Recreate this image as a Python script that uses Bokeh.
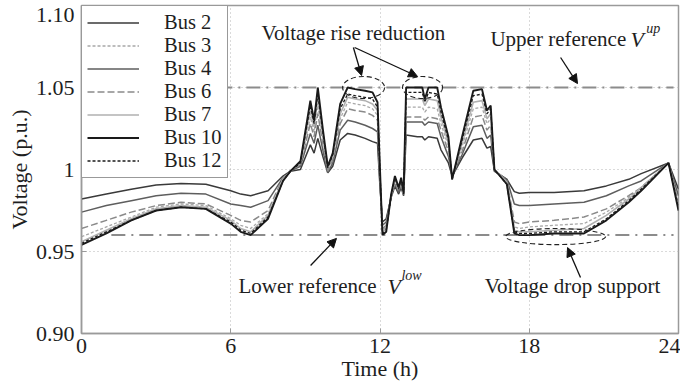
from bokeh.plotting import figure
from bokeh.models import Legend, LegendItem, Arrow, NormalHead, FixedTicker
from bokeh.embed import file_html
from bokeh.resources import INLINE
from bokeh.core.properties import value

# Time axis (hours) shared by every bus profile
hours = [0, 1, 2, 3, 4, 5, 6, 6.4, 6.8, 7.5, 8.1, 8.4, 8.8,
         9.2, 9.35, 9.5, 9.7, 9.9, 10.1, 10.4, 10.7,
         11.0, 11.4, 11.7, 11.9, 12.0, 12.1, 12.25, 12.45, 12.6, 12.75, 12.85, 12.95,
         13.05, 13.5, 13.7, 13.8, 13.95, 14.3, 14.45, 14.75, 14.9, 15.3, 15.75,
         16.1, 16.3, 16.45, 16.6, 17.1, 17.4, 17.6, 18, 19, 20.2, 21.1, 22, 22.5, 23.6, 24]

# Bus voltages (p.u.)
bus2 = [0.982, 0.985, 0.988, 0.9905, 0.9915, 0.991, 0.987, 0.985, 0.984, 0.987, 0.996, 0.999, 1.000,
        1.015, 1.010, 1.019, 1.008, 0.998, 1.002, 1.018, 1.022,
        1.021, 1.019, 1.017, 1.016, 0.989, 0.968, 0.970, 0.983, 0.990, 0.985, 0.989, 0.984,
        1.021, 1.020, 1.020, 1.018, 1.020, 1.019, 1.012, 1.004, 0.996, 1.007, 1.018,
        1.019, 1.013, 1.014, 0.999, 0.994, 0.9865, 0.9855, 0.986, 0.986, 0.987, 0.990, 0.994, 0.9975, 1.004, 0.988]
bus3 = [0.959, 0.965, 0.971, 0.977, 0.979, 0.978, 0.970, 0.966, 0.964, 0.973, 0.994, 0.999, 1.003,
        1.032, 1.023, 1.039, 1.019, 1.000, 1.007, 1.031, 1.041,
        1.040, 1.039, 1.037, 1.033, 0.994, 0.963, 0.965, 0.984, 0.993, 0.987, 0.992, 0.985,
        1.038, 1.038, 1.038, 1.035, 1.038, 1.037, 1.028, 1.014, 0.995, 1.014, 1.037,
        1.038, 1.028, 1.031, 1.000, 0.992, 0.965, 0.964, 0.965, 0.966, 0.967, 0.974, 0.983, 0.989, 1.004, 0.979]
bus4 = [0.974, 0.978, 0.981, 0.984, 0.9855, 0.985, 0.979, 0.978, 0.977, 0.981, 0.995, 0.999, 1.002,
        1.022, 1.016, 1.027, 1.012, 0.998, 1.004, 1.024, 1.030,
        1.029, 1.027, 1.025, 1.023, 0.991, 0.966, 0.968, 0.984, 0.991, 0.986, 0.990, 0.985,
        1.029, 1.029, 1.029, 1.027, 1.029, 1.028, 1.020, 1.008, 0.996, 1.009, 1.026,
        1.027, 1.019, 1.021, 0.999, 0.994, 0.979, 0.978, 0.978, 0.979, 0.980, 0.984, 0.990, 0.993, 1.004, 0.984]
bus6 = [0.964, 0.969, 0.974, 0.978, 0.980, 0.979, 0.972, 0.969, 0.968, 0.975, 0.995, 0.999, 1.003,
        1.028, 1.020, 1.034, 1.016, 0.999, 1.006, 1.028, 1.037,
        1.036, 1.035, 1.033, 1.030, 0.993, 0.964, 0.966, 0.984, 0.992, 0.987, 0.991, 0.985,
        1.032, 1.032, 1.032, 1.030, 1.032, 1.031, 1.024, 1.011, 0.996, 1.011, 1.032,
        1.033, 1.024, 1.027, 1.000, 0.993, 0.968, 0.967, 0.968, 0.969, 0.971, 0.976, 0.984, 0.989, 1.004, 0.980]
bus7 = [0.956, 0.963, 0.970, 0.976, 0.978, 0.977, 0.969, 0.964, 0.962, 0.972, 0.994, 0.999, 1.004,
        1.036, 1.026, 1.043, 1.021, 1.001, 1.008, 1.034, 1.044,
        1.043, 1.042, 1.040, 1.036, 0.996, 0.962, 0.964, 0.984, 0.994, 0.988, 0.993, 0.985,
        1.043, 1.043, 1.043, 1.039, 1.043, 1.042, 1.032, 1.016, 0.995, 1.016, 1.041,
        1.042, 1.031, 1.034, 1.000, 0.992, 0.963, 0.962, 0.962, 0.963, 0.964, 0.972, 0.982, 0.989, 1.004, 0.978]
bus10 = [0.954, 0.961, 0.969, 0.975, 0.977, 0.976, 0.967, 0.962, 0.960, 0.970, 0.993, 0.999, 1.005,
         1.042, 1.030, 1.050, 1.025, 1.002, 1.010, 1.040, 1.050,
         1.049, 1.048, 1.047, 1.041, 1.000, 0.960, 0.962, 0.985, 0.996, 0.989, 0.995, 0.986,
         1.050, 1.050, 1.050, 1.043, 1.050, 1.050, 1.038, 1.020, 0.994, 1.020, 1.048,
         1.049, 1.036, 1.039, 1.000, 0.991, 0.961, 0.960, 0.960, 0.961, 0.961, 0.969, 0.980, 0.987, 1.004, 0.975]
bus12 = [0.955, 0.962, 0.969, 0.975, 0.977, 0.976, 0.968, 0.963, 0.961, 0.971, 0.993, 0.999, 1.004,
         1.039, 1.028, 1.046, 1.023, 1.001, 1.009, 1.037, 1.046,
         1.045, 1.044, 1.043, 1.038, 0.998, 0.961, 0.963, 0.984, 0.995, 0.988, 0.994, 0.985,
         1.047, 1.047, 1.047, 1.041, 1.047, 1.046, 1.035, 1.018, 0.994, 1.018, 1.045,
         1.046, 1.034, 1.037, 1.000, 0.991, 0.962, 0.961, 0.961, 0.962, 0.962, 0.970, 0.981, 0.988, 1.004, 0.977]

v_up = 1.05
v_low = 0.96

x_ticks = [0, 6, 12, 18, 24]
y_ticks = [0.90, 0.95, 1.0, 1.05, 1.10]
y_tick_labels = ["0.90", "0.95", "1", "1.05", "1.10"]

SERIF = "Liberation Serif"
INK = "#1e1e1e"

p = figure(width=680, height=388, x_range=(0, 24), y_range=(0.90, 1.10),
           output_backend="svg", toolbar_location=None,
           min_border_left=81, min_border_right=2, min_border_top=5, min_border_bottom=55)
p.outline_line_color = "#9a9a9a"
p.outline_line_width = 1.5
p.background_fill_color = "white"
p.border_fill_color = "white"

# Axes
for ax in (p.xaxis[0], p.yaxis[0]):
    ax.axis_line_color = "#9a9a9a"
    ax.axis_line_width = 1.5
    ax.major_tick_in = 5
    ax.major_tick_out = 0
    ax.major_tick_line_color = "#9a9a9a"
    ax.minor_tick_line_color = None
    ax.major_label_text_font = SERIF
    ax.major_label_text_font_size = "22px"
    ax.major_label_text_color = INK
    ax.axis_label_text_font = SERIF
    ax.axis_label_text_font_size = "22px"
    ax.axis_label_text_font_style = "normal"
    ax.axis_label_text_color = INK

p.xaxis.ticker = FixedTicker(ticks=x_ticks)
p.yaxis.ticker = FixedTicker(ticks=y_ticks)
overrides = {t: s for t, s in zip(y_ticks, y_tick_labels)}
# push the topmost label just below the frame edge so it stays on the canvas
overrides[y_ticks[-1]] = "\n" + y_tick_labels[-1]
p.yaxis.major_label_overrides = overrides
p.yaxis.major_label_text_line_height = 0.05
p.xaxis.axis_label = "Time (h)"
p.yaxis.axis_label = "Voltage (p.u.)"
p.xaxis.major_label_standoff = 5
p.xaxis.axis_label_standoff = 0
p.yaxis.major_label_standoff = 7
p.yaxis.axis_label_standoff = 1

p.grid.grid_line_color = "#b5b5b5"
p.grid.grid_line_dash = "1 3"
p.grid.grid_line_width = 1

# Reference voltage limits
p.line([1, 23.8], [v_up, v_up], line_color="#8c8c8c", line_width=2, line_dash="14 6 2 6")
p.line([1.2, 23.8], [v_low, v_low], line_color="#8c8c8c", line_width=2, line_dash="14 6 2 6")

series = [
    ("Bus 2", bus2, "#3a3a3a", 1.5, "solid"),
    ("Bus 3", bus3, "#a8a8a8", 1.3, "3 2"),
    ("Bus 4", bus4, "#5e5e5e", 1.5, "solid"),
    ("Bus 6", bus6, "#8a8a8a", 1.5, "7 3"),
    ("Bus 7", bus7, "#b0b0b0", 1.6, "solid"),
    ("Bus 10", bus10, "#1a1a1a", 1.9, "solid"),
    ("Bus 12", bus12, "#1a1a1a", 1.3, "3 2"),
]
items = []
for name, vals, color, lw, dash in series:
    r = p.line(hours, vals, line_color=color, line_width=lw, line_dash=dash)
    items.append(LegendItem(label=name, renderers=[r]))

legend = Legend(items=items, location="top_left", margin=0, padding=5,
                spacing=0, label_height=23, glyph_height=23, glyph_width=52,
                label_standoff=25, label_text_font=SERIF, label_text_font_size="20.5px",
                label_text_color=INK, border_line_color="#333333",
                border_line_width=1.2, background_fill_alpha=1.0)
p.add_layout(legend)

# Highlight ellipses
p.ellipse([11.34, 13.71], [1.050, 1.050], width=[1.69, 1.61], height=[0.0134, 0.0134],
          fill_color=None, line_color="#222222", line_width=1.1, line_dash="5 3")
p.ellipse([19.06], [0.9591], width=[4.02], height=[0.0098],
          fill_color=None, line_color="#222222", line_width=1.1, line_dash="5 3")

def note(x, y, s, align="left", size="21px", style="normal"):
    p.text([x], [y], text=[s], text_font=value(SERIF), text_font_size=size,
           text_font_style=style, text_align=align, text_baseline="middle",
           text_color=INK)

note(10.93, 1.0835, "Voltage rise reduction", align="center")
note(16.44, 1.0793, "Upper reference")
note(22.07, 1.0793, "V", style="italic", size="22px")
note(22.70, 1.0862, "up", style="italic", size="14px")
note(6.31, 0.9287, "Lower reference")
note(12.30, 0.9287, "V", style="italic", size="22px")
note(12.86, 0.9356, "low", style="italic", size="14px")
note(19.74, 0.9287, "Voltage drop support", align="center")

def arrow(x0, y0, x1, y1):
    p.add_layout(Arrow(end=NormalHead(size=9, fill_color="#111111", line_color="#111111"),
                       x_start=x0, y_start=y0, x_end=x1, y_end=y1,
                       line_color="#111111", line_width=1.3))

arrow(10.93, 1.0744, 11.26, 1.0573)
arrow(10.98, 1.0744, 13.51, 1.0567)
arrow(19.26, 1.0683, 19.94, 1.0524)
arrow(9.21, 0.9415, 10.25, 0.958)
arrow(20.06, 0.9341, 19.54, 0.9524)

open("out.html", "w").write(file_html(p, INLINE))
